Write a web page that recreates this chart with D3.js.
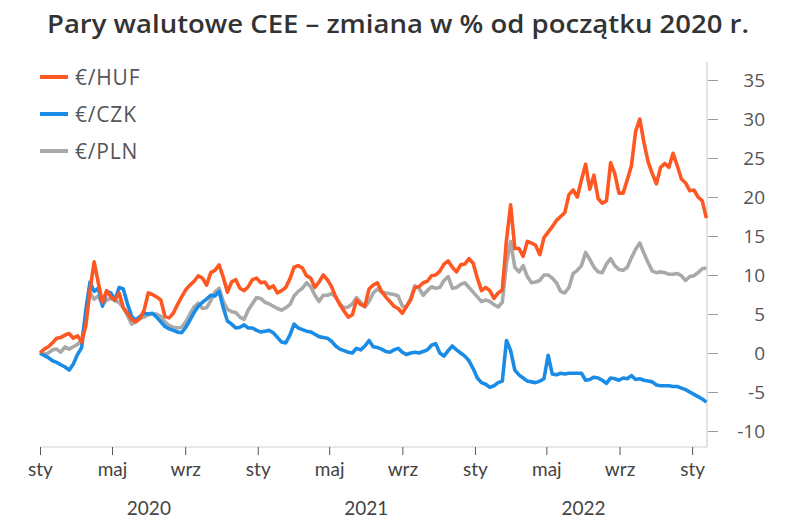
<!DOCTYPE html>
<html><head><meta charset="utf-8">
<script src="https://cdn.jsdelivr.net/npm/d3@7"></script>
<style>
html,body{margin:0;padding:0;background:#fff;}
svg{display:block;}
</style></head>
<body>
<svg id="chart" width="800" height="529"></svg>
<script>
// ---- data (weekly observations, % change since start of 2020) ----
const START_DATE = "2020-01-01";
const STEP_DAYS = 7;
const seriesNames = ["€/HUF", "€/CZK", "€/PLN"];
const hufValues = [0,0.5,0.8,1.3,1.9,2.0,2.3,2.5,1.9,2.2,1.4,3.5,8.0,11.7,9.0,6.5,8.0,7.2,6.8,7.7,
5.8,5.1,4.3,4.0,4.4,5.5,7.7,7.5,7.2,6.8,4.7,4.5,5.1,6.2,7.2,8.1,8.7,9.2,9.9,9.6,
8.7,10.3,10.6,11.3,9.7,7.8,9.1,9.4,8.3,8.0,8.5,9.4,9.6,9.0,9.1,8.3,8.6,7.7,8.0,8.4,
9.5,11.0,11.2,10.9,9.9,9.6,8.4,9.1,10.0,9.4,8.5,7.2,6.2,5.4,4.6,4.9,6.8,6.2,6.0,8.2,
8.7,9.0,7.9,7.2,6.6,6.0,5.7,5.1,6.0,6.8,8.4,8.5,9.0,9.2,9.9,10.0,10.5,11.4,11.8,11.0,
10.4,11.3,11.4,12.1,11.5,9.6,8.0,8.4,8.0,7.0,7.7,8.1,14.5,19.0,13.4,13.4,12.4,14.3,14.1,13.8,
12.6,14.8,15.5,16.2,17.0,17.5,18.0,20.3,20.9,20.0,22.2,24.2,21.0,22.8,19.8,19.2,19.5,24.4,23.0,20.5,
20.5,22.2,24.0,28.4,30.0,27.0,24.5,23.0,21.7,23.8,24.3,23.8,25.6,24.0,22.3,21.8,20.8,20.9,20.0,19.5,17.3];
const czkValues = [0,-0.3,-0.6,-1.0,-1.2,-1.5,-1.8,-2.2,-1.4,-0.2,0.7,5.5,9.1,7.9,8.3,6.0,7.9,7.7,6.8,8.4,
8.2,6.3,4.7,4.2,4.7,5.1,5.0,5.1,4.6,4.0,3.4,3.1,2.9,2.7,2.6,3.3,4.2,5.2,6.0,6.5,
6.9,7.4,7.3,7.9,5.8,4.1,3.7,3.2,3.3,3.6,3.2,3.2,2.9,2.7,2.8,2.9,2.6,2.0,1.4,1.3,
2.3,3.7,3.2,3.0,2.8,2.7,2.4,2.1,2.0,1.9,1.5,0.9,0.5,0.3,0.1,0.0,0.6,0.4,0.9,1.6,
0.8,0.7,0.5,0.2,0.1,0.4,0.6,0.1,-0.2,0.0,0.1,0.0,0.2,0.4,1.0,1.2,0.0,-0.4,0.3,0.9,
0.4,0.0,-0.4,-1.0,-2.0,-3.2,-3.8,-4.0,-4.4,-4.2,-3.8,-3.6,1.6,0.3,-2.2,-2.8,-3.2,-3.6,-3.7,-3.8,
-3.6,-3.3,-0.3,-2.7,-2.8,-2.6,-2.7,-2.6,-2.6,-2.6,-2.6,-3.5,-3.4,-3.1,-3.2,-3.5,-3.9,-3.2,-3.3,-3.5,
-3.2,-3.3,-2.9,-3.4,-3.3,-3.5,-3.6,-3.7,-4.1,-4.2,-4.2,-4.2,-4.3,-4.3,-4.5,-4.7,-5.0,-5.3,-5.6,-5.9,-6.3];
const plnValues = [0,-0.2,0.0,0.4,0.5,0.1,0.8,0.5,0.8,1.1,1.6,5.0,7.7,6.9,7.3,6.2,6.8,7.0,6.7,6.5,
5.8,4.8,3.7,4.0,4.5,4.6,4.9,5.0,5.0,4.7,4.0,3.5,3.3,3.2,3.3,4.0,5.0,5.9,6.4,5.7,
5.8,6.7,7.8,8.3,6.6,5.6,5.3,5.2,4.6,4.3,5.5,6.3,7.1,7.0,6.5,6.3,6.0,5.7,5.5,5.8,
6.2,7.3,7.9,8.3,9.0,8.5,7.4,6.6,7.4,7.4,7.6,7.2,6.3,5.8,5.9,6.3,7.1,6.5,5.9,6.6,
7.7,8.2,7.8,7.7,7.6,7.5,7.3,6.0,5.9,7.0,8.6,8.3,7.4,8.0,8.5,8.3,8.4,9.3,9.8,8.3,
8.4,8.8,9.0,8.4,7.8,7.2,6.6,6.8,6.6,6.2,5.9,6.5,11.5,14.3,11.0,10.4,11.2,9.8,9.0,9.1,
9.3,10.0,10.0,9.6,9.0,7.9,7.7,8.4,10.2,10.6,11.2,12.9,12.0,11.0,10.4,10.3,11.4,12.1,11.2,10.7,
10.6,11.0,12.2,13.3,14.1,12.8,11.6,10.5,10.3,10.4,10.3,10.1,10.1,10.2,9.9,9.3,9.8,9.9,10.3,10.8,10.9];
const seriesColors = ["#FF5722", "#1A8CE6", "#A9A9A9"];
const yTickValues = [35,30,25,20,15,10,5,0,-5,-10];
const xTickDates = ["2020-01-01","2020-05-01","2020-09-01","2021-01-01","2021-05-01","2021-09-01",
                    "2022-01-01","2022-05-01","2022-09-01","2023-01-01"];
const xTickLabels = ["sty","maj","wrz","sty","maj","wrz","sty","maj","wrz","sty"];
const yearLabels = ["2020","2021","2022"];
const yearStarts = ["2020-01-01","2021-01-01","2022-01-01","2023-01-01"];
const titleText = "Pary walutowe CEE – zmiana w % od początku 2020 r.";

// ---- build ----
const parse = d3.utcParse("%Y-%m-%d");
const start = parse(START_DATE);
const dates = hufValues.map((_, i) => d3.utcDay.offset(start, i * STEP_DAYS));
const allSeries = [hufValues, czkValues, plnValues];

const svg = d3.select("#chart");
const x = d3.scaleUtc().domain([parse("2020-01-01"), parse("2023-01-26")]).range([40, 707]);
const y = d3.scaleLinear().domain([-10, 35]).range([431, 80]);

// title
svg.append("text")
  .attr("x", 398).attr("y", 33)
  .attr("text-anchor", "middle")
  .attr("textLength", 702)
  .attr("lengthAdjust", "spacingAndGlyphs")
  .style("font-family", "'Open Sans', sans-serif")
  .style("font-weight", 600)
  .style("font-size", "25px")
  .style("fill", "#333")
  .text(titleText);

// right axis
const yAxisG = svg.append("g").attr("transform", "translate(707,0)")
  .call(d3.axisRight(y).tickValues(yTickValues).tickSize(11).tickPadding(47).tickFormat(d => String(d)));
yAxisG.select(".domain").attr("d", "M0,62V447").attr("stroke", "#d0d0d0").attr("stroke-width", 1.2);
yAxisG.selectAll(".tick line").attr("stroke", "#9a9a9a").attr("x1", 1);
yAxisG.selectAll(".tick text")
  .attr("text-anchor", "end")
  .style("font-family", "'Open Sans', sans-serif")
  .style("font-size", "19px")
  .style("fill", "#555");

// bottom axis
const xAxisG = svg.append("g").attr("transform", "translate(0,447)")
  .call(d3.axisBottom(x).tickValues(xTickDates.map(parse)).tickSize(8).tickPadding(8)
    .tickFormat((d, i) => xTickLabels[i]));
xAxisG.select(".domain").attr("d", "M40,0H707").attr("stroke", "#d0d0d0").attr("stroke-width", 1.2);
xAxisG.selectAll(".tick line").attr("stroke", "#555");
xAxisG.selectAll(".tick text")
  .style("font-family", "Lato, sans-serif")
  .style("font-size", "19px")
  .style("fill", "#444");

// year labels
svg.append("g").selectAll("text").data(yearLabels).join("text")
  .attr("x", (d, i) => (x(parse(yearStarts[i])) + x(parse(yearStarts[i + 1]))) / 2)
  .attr("y", 515)
  .attr("text-anchor", "middle")
  .style("font-family", "Lato, sans-serif")
  .style("font-size", "19px")
  .style("fill", "#444")
  .text(d => d);

// lines (PLN, CZK, HUF on top)
const line = d3.line().x((d, i) => x(dates[i])).y(d => y(d)).curve(d3.curveLinear);
[2, 1, 0].forEach(s => {
  svg.append("path")
    .datum(allSeries[s])
    .attr("fill", "none")
    .attr("stroke", seriesColors[s])
    .attr("stroke-width", 3.6)
    .attr("stroke-linejoin", "round")
    .attr("d", line);
});

// legend
const legend = svg.append("g");
seriesNames.forEach((name, i) => {
  const ly = 77 + i * 37;
  legend.append("line").attr("x1", 40).attr("x2", 68).attr("y1", ly).attr("y2", ly)
    .attr("stroke", seriesColors[i]).attr("stroke-width", 4);
  legend.append("text").attr("x", 75).attr("y", ly + 7.5)
    .style("font-family", "'Open Sans', sans-serif")
    .style("font-size", "21px")
    .style("letter-spacing", "0.8px")
    .style("fill", "#555")
    .text(name);
});
</script>
</body></html>
